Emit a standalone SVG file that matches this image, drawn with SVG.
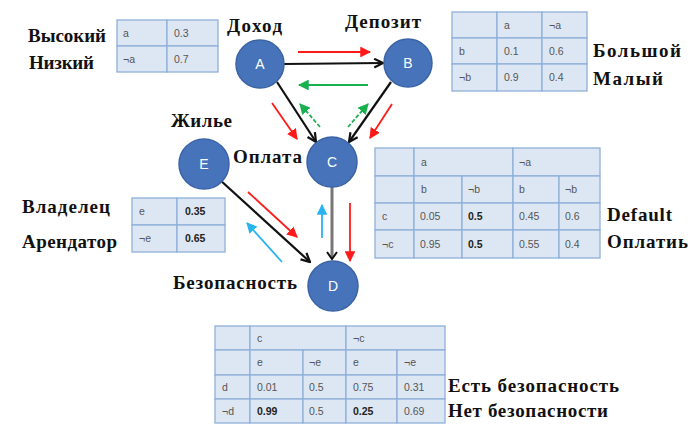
<svg xmlns="http://www.w3.org/2000/svg" width="690" height="428" viewBox="0 0 690 428">
<defs>
<style>
.cell{fill:#dde7f3;stroke:#8fb0d9;stroke-width:1.3}
.t{font-family:"Liberation Sans",Arial,sans-serif;font-size:10.5px;fill:#555}
.tb{font-family:"Liberation Sans",Arial,sans-serif;font-size:10.5px;fill:#222;font-weight:bold}
.lbl{font-family:"Liberation Serif","Times New Roman",serif;font-size:19px;font-weight:bold;fill:#111}
.node{fill:#4673b9;stroke:#3b64a6;stroke-width:1.5}
.nl{font-family:"Liberation Sans",Arial,sans-serif;font-size:14px;fill:#fff;text-anchor:middle}
.blk{stroke:#111;stroke-width:2.2;fill:none}
.red{stroke:#ff1a1a;stroke-width:1.8;fill:none}
.grn{stroke:#19b050;stroke-width:1.8;fill:none}
.blu{stroke:#2ab4ee;stroke-width:1.8;fill:none}
</style>
<marker id="mb" viewBox="0 0 10 10" refX="9" refY="5" markerWidth="5" markerHeight="5" orient="auto" markerUnits="strokeWidth"><path d="M1,1 L9,5 L1,9" fill="none" stroke="#111" stroke-width="2"/></marker>
<marker id="mr" viewBox="0 0 10 10" refX="9" refY="5" markerWidth="6" markerHeight="6" orient="auto" markerUnits="strokeWidth"><path d="M0,0 L10,5 L0,10 Z" fill="#ff1a1a"/></marker>
<marker id="mg" viewBox="0 0 10 10" refX="9" refY="5" markerWidth="6" markerHeight="6" orient="auto" markerUnits="strokeWidth"><path d="M0,0 L10,5 L0,10 Z" fill="#19b050"/></marker>
<marker id="mu" viewBox="0 0 10 10" refX="9" refY="5" markerWidth="6" markerHeight="6" orient="auto" markerUnits="strokeWidth"><path d="M0,0 L10,5 L0,10 Z" fill="#2ab4ee"/></marker>
</defs>
<rect width="690" height="428" fill="#fff"/>

<g id="connectors">
<line class="blk" x1="284" y1="64" x2="383" y2="63" marker-end="url(#mb)"/>
<line class="blk" x1="277" y1="82" x2="316" y2="142" marker-end="url(#mb)"/>
<line class="blk" x1="391" y1="82" x2="349" y2="142" marker-end="url(#mb)"/>
<line x1="332" y1="187" x2="332" y2="258" stroke="#777" stroke-width="3"/>
<path d="M327,252 L332,259 L337,252" fill="none" stroke="#111" stroke-width="2"/>
<line class="blk" x1="220" y1="180" x2="310" y2="262" marker-end="url(#mb)"/>
<line class="red" x1="298" y1="52" x2="370" y2="52" marker-end="url(#mr)"/>
<line class="grn" x1="368" y1="85" x2="299" y2="85" marker-end="url(#mg)"/>
<line class="red" x1="272" y1="103" x2="297" y2="139" marker-end="url(#mr)"/>
<line class="red" x1="392" y1="104" x2="370" y2="138" marker-end="url(#mr)"/>
<line class="grn" x1="320" y1="127" x2="300" y2="104" stroke-dasharray="4,2" marker-end="url(#mg)"/>
<line class="grn" x1="348" y1="127" x2="368" y2="104" stroke-dasharray="4,2" marker-end="url(#mg)"/>
<line class="red" x1="248" y1="192" x2="297" y2="237" marker-end="url(#mr)"/>
<line class="blu" x1="282" y1="262" x2="247" y2="223" marker-end="url(#mu)"/>
<line class="blu" x1="322" y1="238" x2="322" y2="205" marker-end="url(#mu)"/>
<line class="red" x1="350" y1="203" x2="350" y2="261" marker-end="url(#mr)"/>
</g>

<g id="A"><circle class="node" cx="260" cy="64" r="24"/><text class="nl" x="260" y="69">A</text></g>
<g id="B"><circle class="node" cx="408" cy="63" r="24"/><text class="nl" x="408" y="68">B</text></g>
<g id="C"><circle class="node" cx="332" cy="162" r="25"/><text class="nl" x="332" y="167">C</text></g>
<g id="D"><circle class="node" cx="333" cy="286" r="25"/><text class="nl" x="333" y="291">D</text></g>
<g id="E"><circle class="node" cx="204" cy="164" r="25"/><text class="nl" x="204" y="169">E</text></g>

<g id="labels">
<text class="lbl" x="227" y="32" textLength="55">Доход</text>
<text class="lbl" x="345" y="28" textLength="76">Депозит</text>
<text class="lbl" x="171" y="127" textLength="61">Жилье</text>
<text class="lbl" x="233" y="163" textLength="69">Оплата</text>
<text class="lbl" x="173" y="289" textLength="124">Безопасность</text>
<text class="lbl" x="28" y="42" textLength="78">Высокий</text>
<text class="lbl" x="29" y="69" textLength="65">Низкий</text>
<text class="lbl" x="593" y="57" textLength="88">Большой</text>
<text class="lbl" x="593" y="85" textLength="70">Малый</text>
<text class="lbl" x="22" y="213" textLength="88">Владелец</text>
<text class="lbl" x="22" y="248" textLength="95">Арендатор</text>
<text class="lbl" x="607" y="221" textLength="65">Default</text>
<text class="lbl" x="607" y="248" textLength="81">Оплатиь</text>
<text class="lbl" x="448" y="392" textLength="171">Есть безопасность</text>
<text class="lbl" x="448" y="417" textLength="160">Нет безопасности</text>
</g>

<g id="tableA">
<rect class="cell" x="117" y="20" width="50" height="26"/><rect class="cell" x="167" y="20" width="51" height="26"/>
<rect class="cell" x="117" y="46" width="50" height="26"/><rect class="cell" x="167" y="46" width="51" height="26"/>
<text class="t" x="123" y="37">a</text><text class="t" x="174" y="37">0.3</text>
<text class="t" x="123" y="63">¬a</text><text class="t" x="174" y="63">0.7</text>
</g>

<g id="tableB">
<rect class="cell" x="452" y="12" width="45" height="26"/><rect class="cell" x="497" y="12" width="45" height="26"/><rect class="cell" x="542" y="12" width="45" height="26"/>
<rect class="cell" x="452" y="38" width="45" height="26"/><rect class="cell" x="497" y="38" width="45" height="26"/><rect class="cell" x="542" y="38" width="45" height="26"/>
<rect class="cell" x="452" y="64" width="45" height="27"/><rect class="cell" x="497" y="64" width="45" height="27"/><rect class="cell" x="542" y="64" width="45" height="27"/>
<text class="t" x="504" y="29">a</text><text class="t" x="549" y="29">¬a</text>
<text class="t" x="459" y="55">b</text><text class="t" x="504" y="55">0.1</text><text class="t" x="549" y="55">0.6</text>
<text class="t" x="459" y="81">¬b</text><text class="t" x="504" y="81">0.9</text><text class="t" x="549" y="81">0.4</text>
</g>

<g id="tableC">
<rect class="cell" x="375" y="148" width="39" height="28"/><rect class="cell" x="414" y="148" width="99" height="28"/><rect class="cell" x="513" y="148" width="87" height="28"/>
<rect class="cell" x="375" y="176" width="39" height="27"/><rect class="cell" x="414" y="176" width="48" height="27"/><rect class="cell" x="462" y="176" width="51" height="27"/><rect class="cell" x="513" y="176" width="46" height="27"/><rect class="cell" x="559" y="176" width="41" height="27"/>
<rect class="cell" x="375" y="203" width="39" height="27"/><rect class="cell" x="414" y="203" width="48" height="27"/><rect class="cell" x="462" y="203" width="51" height="27"/><rect class="cell" x="513" y="203" width="46" height="27"/><rect class="cell" x="559" y="203" width="41" height="27"/>
<rect class="cell" x="375" y="230" width="39" height="28"/><rect class="cell" x="414" y="230" width="48" height="28"/><rect class="cell" x="462" y="230" width="51" height="28"/><rect class="cell" x="513" y="230" width="46" height="28"/><rect class="cell" x="559" y="230" width="41" height="28"/>
<text class="t" x="421" y="166">a</text><text class="t" x="519" y="166">¬a</text>
<text class="t" x="421" y="193">b</text><text class="t" x="468" y="193">¬b</text><text class="t" x="519" y="193">b</text><text class="t" x="565" y="193">¬b</text>
<text class="t" x="382" y="220">c</text><text class="t" x="420" y="220">0.05</text><text class="tb" x="468" y="220">0.5</text><text class="t" x="519" y="220">0.45</text><text class="t" x="565" y="220">0.6</text>
<text class="t" x="382" y="248">¬c</text><text class="t" x="420" y="248">0.95</text><text class="tb" x="468" y="248">0.5</text><text class="t" x="519" y="248">0.55</text><text class="t" x="565" y="248">0.4</text>
</g>

<g id="tableE">
<rect class="cell" x="132" y="198" width="45" height="27"/><rect class="cell" x="177" y="198" width="48" height="27"/>
<rect class="cell" x="132" y="225" width="45" height="27"/><rect class="cell" x="177" y="225" width="48" height="27"/>
<text class="t" x="139" y="215">e</text><text class="tb" x="185" y="215">0.35</text>
<text class="t" x="139" y="242">¬e</text><text class="tb" x="185" y="242">0.65</text>
</g>

<g id="tableD">
<rect class="cell" x="215" y="326" width="35" height="24"/><rect class="cell" x="250" y="326" width="96" height="24"/><rect class="cell" x="346" y="326" width="99" height="24"/>
<rect class="cell" x="215" y="350" width="35" height="25"/><rect class="cell" x="250" y="350" width="53" height="25"/><rect class="cell" x="303" y="350" width="43" height="25"/><rect class="cell" x="346" y="350" width="51" height="25"/><rect class="cell" x="397" y="350" width="48" height="25"/>
<rect class="cell" x="215" y="375" width="35" height="24"/><rect class="cell" x="250" y="375" width="53" height="24"/><rect class="cell" x="303" y="375" width="43" height="24"/><rect class="cell" x="346" y="375" width="51" height="24"/><rect class="cell" x="397" y="375" width="48" height="24"/>
<rect class="cell" x="215" y="399" width="35" height="24"/><rect class="cell" x="250" y="399" width="53" height="24"/><rect class="cell" x="303" y="399" width="43" height="24"/><rect class="cell" x="346" y="399" width="51" height="24"/><rect class="cell" x="397" y="399" width="48" height="24"/>
<text class="t" x="257" y="342">c</text><text class="t" x="353" y="342">¬c</text>
<text class="t" x="257" y="366">e</text><text class="t" x="309" y="366">¬e</text><text class="t" x="353" y="366">e</text><text class="t" x="404" y="366">¬e</text>
<text class="t" x="222" y="391">d</text><text class="t" x="257" y="391">0.01</text><text class="t" x="309" y="391">0.5</text><text class="t" x="353" y="391">0.75</text><text class="t" x="404" y="391">0.31</text>
<text class="t" x="222" y="415">¬d</text><text class="tb" x="257" y="415">0.99</text><text class="t" x="309" y="415">0.5</text><text class="tb" x="353" y="415">0.25</text><text class="t" x="404" y="415">0.69</text>
</g>
</svg>
